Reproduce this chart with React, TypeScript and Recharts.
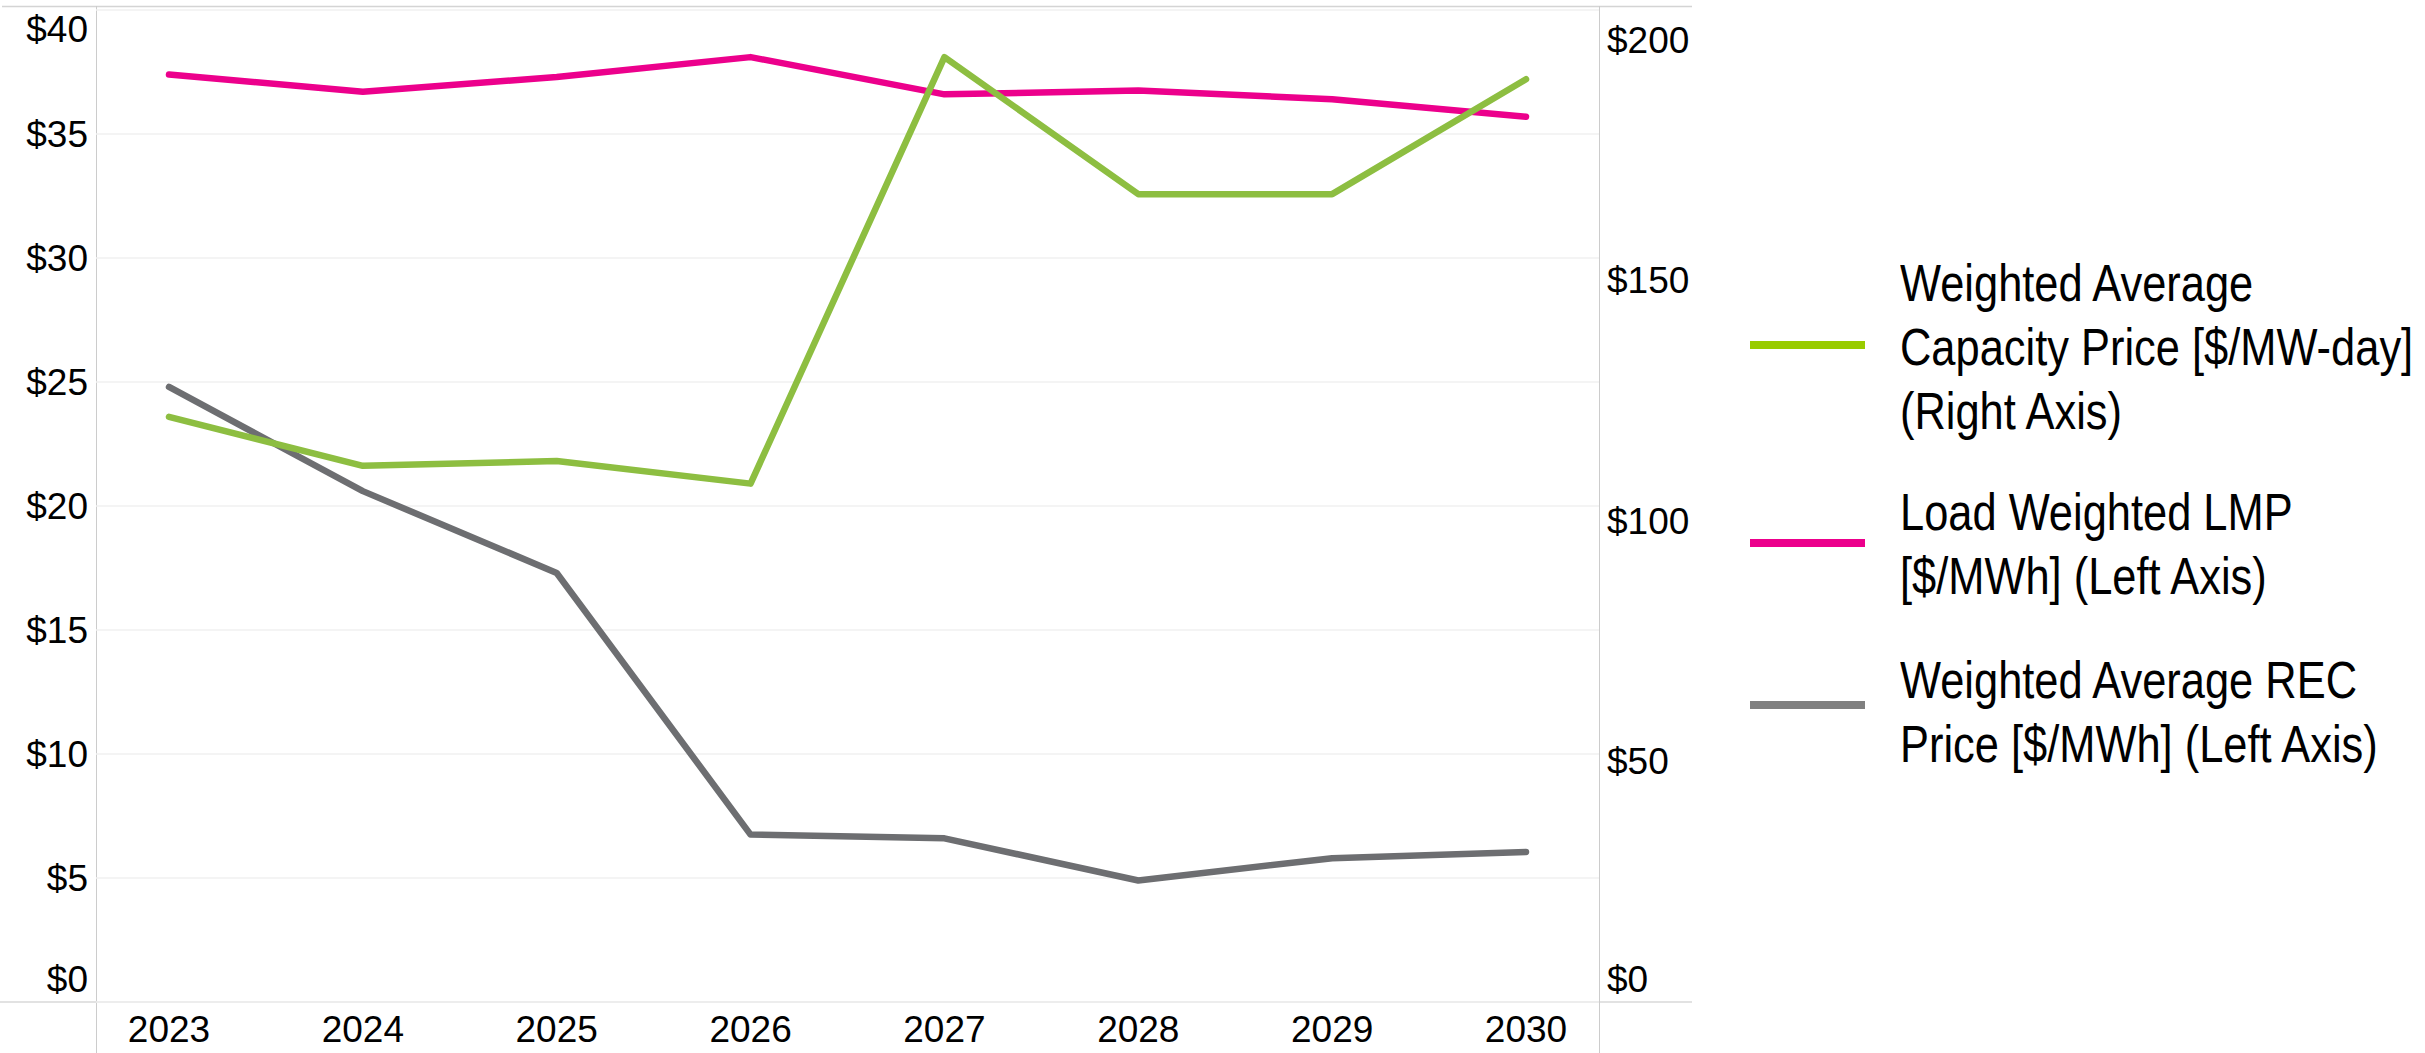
import React from 'react';
import { LineChart, Line, XAxis, YAxis, CartesianGrid, Legend } from 'recharts';

const years = ['2023', '2024', '2025', '2026', '2027', '2028', '2029', '2030'];
const capacityPrice = [121.7, 111.5, 112.5, 107.8, 196.5, 168.0, 168.0, 191.9];
const loadWeightedLmp = [37.4, 36.7, 37.3, 38.1, 36.6, 36.75, 36.4, 35.7];
const recPrice = [24.8, 20.6, 17.3, 6.75, 6.6, 4.9, 5.8, 6.05];

const leftTicks = [0, 5, 10, 15, 20, 25, 30, 35, 40];
const rightTicks = [0, 50, 100, 150, 200];

const legendItems = [
  { lines: ['Weighted Average', 'Capacity Price [$/MW-day]', '(Right Axis)'], color: '#99CC00' },
  { lines: ['Load Weighted LMP', '[$/MWh] (Left Axis)'], color: '#EC008C' },
  { lines: ['Weighted Average REC', 'Price [$/MWh] (Left Axis)'], color: '#808080' },
];

const data = years.map((year, i) => ({
  year,
  capacity: capacityPrice[i],
  lmp: loadWeightedLmp[i],
  rec: recPrice[i],
}));

const W = 2425;
const H = 1053;
const FONT = "'Liberation Sans', Arial, sans-serif";

const LeftTick = (props: any) => {
  const { x, y, payload } = props;
  let dy = 0;
  if (payload.value === 40) dy = 19;
  if (payload.value === 0) dy = -23;
  return (
    <text x={x} y={y + dy} textAnchor="end" dominantBaseline="central" fontSize={37} fontFamily={FONT} fill="#000">
      {'$' + payload.value}
    </text>
  );
};

const RightTick = (props: any) => {
  const { x, y, payload } = props;
  let dy = 0;
  if (payload.value === 0) dy = -23;
  return (
    <text x={x} y={y + dy} textAnchor="start" dominantBaseline="central" fontSize={37} fontFamily={FONT} fill="#000">
      {'$' + payload.value}
    </text>
  );
};

const BottomTick = (props: any) => {
  const { x, y, payload } = props;
  return (
    <text x={x} y={y} textAnchor="middle" dominantBaseline="central" fontSize={37} fontFamily={FONT} fill="#000">
      {payload.value}
    </text>
  );
};

const legendTops = [251, 480, 648];
const legendLineY = [345, 543, 705];

const renderLegend = () => (
  <div style={{ position: 'relative', width: W, height: H }}>
    {legendItems.map((item, i) => (
      <React.Fragment key={i}>
        <div
          style={{
            position: 'absolute',
            left: 1750,
            top: legendLineY[i] - 4,
            width: 115,
            height: 8,
            background: item.color,
          }}
        />
        <div
          style={{
            position: 'absolute',
            left: 1900,
            top: legendTops[i],
            fontFamily: FONT,
            fontSize: 52,
            lineHeight: '64px',
            color: '#000',
            whiteSpace: 'nowrap',
            transform: 'scaleX(0.835)',
            transformOrigin: 'left top',
            textAlign: 'left',
          }}
        >
          {item.lines.map((l, j) => (
            <div key={j}>{l}</div>
          ))}
        </div>
      </React.Fragment>
    ))}
  </div>
);

export default function App() {
  return (
    <div style={{ position: 'relative', width: W, height: H, background: '#fff', overflow: 'hidden' }}>
      <style>{'body{margin:0;}'}</style>
      <svg width={W} height={H} style={{ position: 'absolute', left: 0, top: 0 }}>
        <line x1={2} y1={6.5} x2={1692} y2={6.5} stroke="#d4d4d4" strokeWidth={1.5} />
        <line x1={0} y1={1002} x2={1692} y2={1002} stroke="#e2e2e2" strokeWidth={2} />
        <line x1={96.5} y1={6} x2={96.5} y2={H} stroke="#cccccc" strokeWidth={1} />
        <line x1={1599.5} y1={6} x2={1599.5} y2={H} stroke="#cccccc" strokeWidth={1} />
      </svg>
      <div style={{ position: 'absolute', left: 0, top: 0 }}>
        <LineChart width={W} height={H} data={data} margin={{ top: 10, right: 726, bottom: 0, left: 0 }}>
          <CartesianGrid vertical={false} yAxisId="left" stroke="#f0f0f0" strokeWidth={1.5} />
          <XAxis
            dataKey="year"
            height={51}
            padding={{ left: 73, right: 73 }}
            axisLine={false}
            tickLine={false}
            tickSize={0}
            tickMargin={27}
            interval={0}
            tick={<BottomTick />}
          />
          <YAxis
            yAxisId="left"
            orientation="left"
            width={96}
            domain={[0, 40]}
            ticks={leftTicks}
            axisLine={false}
            tickLine={false}
            tickSize={0}
            tickMargin={8}
            interval={0}
            tick={<LeftTick />}
          />
          <YAxis
            yAxisId="right"
            orientation="right"
            width={100}
            domain={[0, 206.3]}
            ticks={rightTicks}
            axisLine={false}
            tickLine={false}
            tickSize={0}
            tickMargin={8}
            interval={0}
            tick={<RightTick />}
          />
          <Legend
            content={renderLegend}
            layout="horizontal"
            align="center"
            verticalAlign="middle"
            wrapperStyle={{ position: 'absolute', left: 0, top: 0, width: W, height: H, pointerEvents: 'none' }}
          />
          <Line
            yAxisId="left"
            type="linear"
            dataKey="rec"
            stroke="#6D6E71"
            strokeWidth={6.5}
            dot={false}
            strokeLinecap="round"
            strokeLinejoin="round"
            isAnimationActive={false}
          />
          <Line
            yAxisId="left"
            type="linear"
            dataKey="lmp"
            stroke="#EC008C"
            strokeWidth={6.5}
            dot={false}
            strokeLinecap="round"
            strokeLinejoin="round"
            isAnimationActive={false}
          />
          <Line
            yAxisId="right"
            type="linear"
            dataKey="capacity"
            stroke="#8DBE41"
            strokeWidth={6.5}
            dot={false}
            strokeLinecap="round"
            strokeLinejoin="round"
            isAnimationActive={false}
          />
        </LineChart>
      </div>
    </div>
  );
}
